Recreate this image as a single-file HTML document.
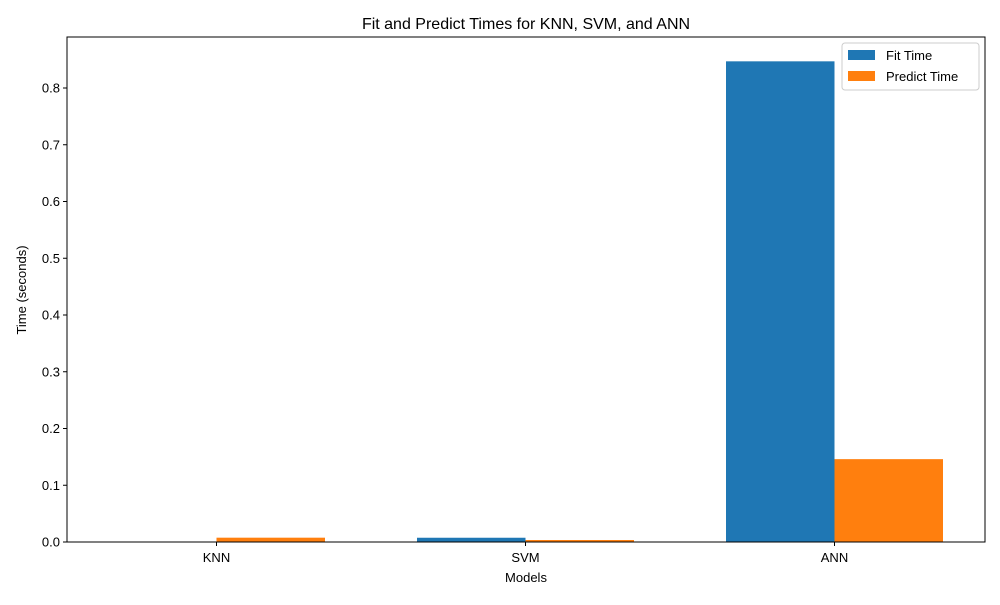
<!DOCTYPE html>
<html><head><meta charset="utf-8"><style>
body{margin:0;background:#fff;}
svg text{font-family:"Liberation Sans",sans-serif;fill:#000;}
</style></head><body>
<svg id="chart" width="1000" height="600"></svg>
<script>
const categories = ["KNN","SVM","ANN"];
const fitTimes = [0.0003, 0.0075, 0.847];
const predictTimes = [0.0076, 0.0035, 0.146];
const yTicks = [0,0.1,0.2,0.3,0.4,0.5,0.6,0.7,0.8];

const NS="http://www.w3.org/2000/svg";
const svg=document.getElementById('chart');
const L=67,R=985,T=37,B=542;
const y=v=>B-v*567.5;
const xc=i=>216.5+i*309;
const bw=108.5;
function el(tag,attrs,parent){const e=document.createElementNS(NS,tag);for(const k in attrs)e.setAttribute(k,attrs[k]);(parent||svg).appendChild(e);return e;}

categories.forEach((c,i)=>{
  const f=el('rect',{x:xc(i)-bw,y:y(fitTimes[i]),width:bw,height:B-y(fitTimes[i]),fill:'#1f77b4'});
  
  
  const p=el('rect',{x:xc(i),y:y(predictTimes[i]),width:bw,height:B-y(predictTimes[i]),fill:'#ff7f0e'});
  
  
  el('line',{x1:xc(i),x2:xc(i),y1:B,y2:B+4,stroke:'#000','stroke-width':1});
  const t=el('text',{x:xc(i),y:B+20,'text-anchor':'middle','font-size':13});
  t.textContent=c;
  
  
});
yTicks.forEach(v=>{
  el('line',{x1:L-4,x2:L,y1:y(v),y2:y(v),stroke:'#000','stroke-width':1});
  const t=el('text',{x:L-7,y:y(v)+4.5,'text-anchor':'end','font-size':13});
  t.textContent=v.toFixed(1);
  
  
});
const frame=el('rect',{x:L,y:T,width:R-L,height:B-T,fill:'none',stroke:'#000','stroke-width':1});


</script>
<svg width="1000" height="600" style="position:absolute;left:0;top:0">
<text x="526" y="29" text-anchor="middle" font-size="16">Fit and Predict Times for KNN, SVM, and ANN</text>
<text x="526" y="582" text-anchor="middle" font-size="13">Models</text>
<text x="26" y="290" text-anchor="middle" font-size="13" transform="rotate(-90 26 290)">Time (seconds)</text>
<g>
<rect x="842" y="43" width="137" height="47" rx="3" fill="#fff" fill-opacity="0.8" stroke="#ccc"/>
<rect x="848" y="50" width="27" height="10" fill="#1f77b4"/>
<text x="886" y="60" font-size="13">Fit Time</text>
<rect x="848" y="71" width="27" height="10" fill="#ff7f0e"/>
<text x="886" y="81" font-size="13">Predict Time</text>
</g>
</svg>
</body></html>
